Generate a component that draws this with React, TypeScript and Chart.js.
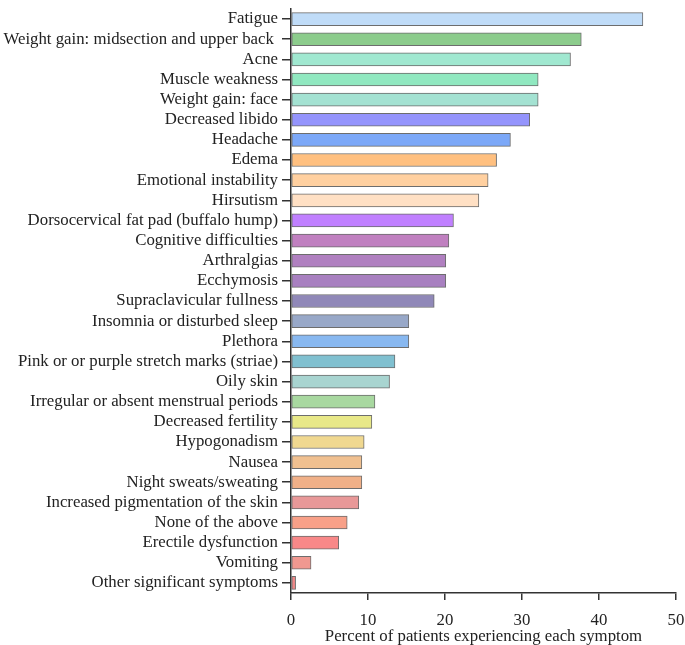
import React, { useEffect, useRef } from "react";
import { Chart, registerables } from "chart.js";

Chart.register(...registerables);

const symptoms = [
  "Fatigue",
  "Weight gain: midsection and upper back ",
  "Acne",
  "Muscle weakness",
  "Weight gain: face",
  "Decreased libido",
  "Headache",
  "Edema",
  "Emotional instability",
  "Hirsutism",
  "Dorsocervical fat pad (buffalo hump)",
  "Cognitive difficulties",
  "Arthralgias",
  "Ecchymosis",
  "Supraclavicular fullness",
  "Insomnia or disturbed sleep",
  "Plethora",
  "Pink or or purple stretch marks (striae)",
  "Oily skin",
  "Irregular or absent menstrual periods",
  "Decreased fertility",
  "Hypogonadism",
  "Nausea",
  "Night sweats/sweating",
  "Increased pigmentation of the skin",
  "None of the above",
  "Erectile dysfunction",
  "Vomiting",
  "Other significant symptoms",
];

const percents = [
  45.7, 37.7, 36.3, 32.1, 32.1, 31.0, 28.5, 26.7, 25.6, 24.4,
  21.1, 20.5, 20.1, 20.1, 18.6, 15.3, 15.3, 13.5, 12.8, 10.9,
  10.5, 9.5, 9.2, 9.2, 8.8, 7.3, 6.2, 2.6, 0.6,
];

const barColors = [
  "#c0dcf8", "#8ccc8c", "#a0e8d0", "#90e8c0", "#a4e2d2",
  "#9494fc", "#7ca8f8", "#ffc080", "#ffd0a0", "#ffe0c4",
  "#c080ff", "#c080c0", "#b080c0", "#a880c0", "#9088b8",
  "#98a8c8", "#88b8f0", "#80c0d0", "#a8d4d0", "#a8d8a0",
  "#e8e888", "#f0d890", "#f0c090", "#f0b088", "#e89898",
  "#f8a088", "#f88888", "#f09890", "#f08888",
];

const xTicks = [0, 10, 20, 30, 40, 50];
const xTitle = "Percent of patients experiencing each symptom";

export default function App() {
  const ref = useRef<HTMLCanvasElement | null>(null);

  useEffect(() => {
    if (!ref.current) return;
    const font = { family: "'Liberation Serif', 'Times New Roman', serif", size: 16.8 };
    const chart = new Chart(ref.current, {
      type: "bar",
      data: {
        labels: symptoms,
        datasets: [
          {
            data: percents,
            backgroundColor: barColors,
            borderColor: "rgba(60,60,60,0.75)",
            borderWidth: 1,
            borderSkipped: false,
            barThickness: 13,
          },
        ],
      },
      options: {
        indexAxis: "y",
        animation: false,
        responsive: true,
        maintainAspectRatio: false,
        layout: { padding: { top: 9, right: 9, left: 0, bottom: 0 } },
        plugins: { legend: { display: false }, tooltip: { enabled: false } },
        scales: {
          x: {
            type: "linear",
            min: 0,
            max: 50,
            afterBuildTicks: (scale: any) => {
              scale.ticks = xTicks.map((v) => ({ value: v }));
            },
            afterFit: (scale: any) => {
              scale.height = 52;
              scale.paddingLeft = 0;
              scale.paddingRight = 0;
            },
            ticks: { color: "#222", font, padding: 11 },
            grid: { drawOnChartArea: false, drawTicks: true, tickLength: 7, color: "#333", tickColor: "#333", lineWidth: 1.5, tickWidth: 1.5 },
            border: { display: true, color: "#333", width: 1.5 },
            title: { display: true, text: xTitle, color: "#222", font, padding: { top: 0, bottom: -2 } },
          },
          y: {
            type: "category",
            offset: true,
            afterFit: (scale: any) => {
              scale.width = 291;
              scale.paddingTop = 0;
              scale.paddingBottom = 0;
            },
            ticks: { color: "#222", font, padding: 4, autoSkip: false },
            grid: { offset: false, drawOnChartArea: false, drawTicks: true, tickLength: 9, color: "#333", tickColor: "#333", lineWidth: 1.5, tickWidth: 1.5 },
            border: { display: true, color: "#333", width: 1.5 },
          },
        },
      },
    });
    return () => chart.destroy();
  }, []);

  return (
    <div style={{ position: "fixed", left: 0, top: 0, width: 685, height: 645, background: "#fff" }}>
      <canvas ref={ref} />
    </div>
  );
}
